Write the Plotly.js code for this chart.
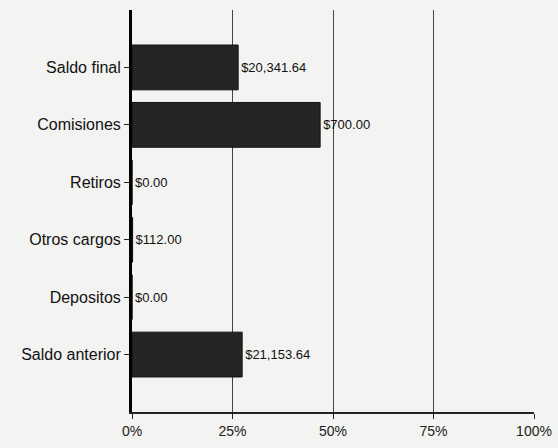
<!DOCTYPE html>
<html>
<head>
<meta charset="utf-8">
<script src="https://cdn.plot.ly/plotly-3.0.1.min.js"></script>
<style>html,body{margin:0;padding:0;background:#f3f3f1;}#chart{width:558px;height:448px;}</style>
</head>
<body>
<div id="chart"></div>
<script>
var categories = ["Saldo anterior", "Depositos", "Otros cargos", "Retiros", "Comisiones", "Saldo final"];
var percentValues = [27.4, 0, 0.15, 0, 46.8, 26.4];
var amountLabels = ["$21,153.64", "$0.00", "$112.00", "$0.00", "$700.00", "$20,341.64"];
var tickVals = [0, 25, 50, 75, 100];
var tickText = ["0%", "25%", "50%", "75%", "100%"];

var trace = {
  type: "bar",
  orientation: "h",
  y: categories,
  x: percentValues,
  text: amountLabels,
  textposition: "outside",
  cliponaxis: false,
  width: 0.78,
  marker: {color: "#252525", line: {color: "#111", width: 1}},
  textfont: {family: "Liberation Sans, Arial, sans-serif", size: 13, color: "#111"},
  hoverinfo: "none"
};

var layout = {
  width: 558, height: 448,
  margin: {l: 132, r: 24, t: 10, b: 36},
  paper_bgcolor: "#f3f3f1",
  plot_bgcolor: "#f3f3f1",
  showlegend: false,
  font: {family: "Liberation Sans, Arial, sans-serif", size: 12, color: "#111"},
  xaxis: {
    range: [0, 100],
    tickvals: tickVals,
    ticktext: tickText,
    showgrid: true,
    gridcolor: "#444",
    gridwidth: 1,
    zeroline: false,
    showline: true,
    linecolor: "#222",
    linewidth: 2,
    ticks: "outside",
    ticklen: 5,
    tickcolor: "#222",
    tickfont: {size: 14, color: "#222"},
    fixedrange: true
  },
  yaxis: {
    type: "category",
    range: [-1, 6],
    showgrid: false,
    zeroline: false,
    showline: true,
    linecolor: "#000",
    linewidth: 3,
    ticks: "outside",
    ticklen: 5,
    tickcolor: "#222",
    tickfont: {size: 16, color: "#111"},
    fixedrange: true
  },
  bargap: 0.22
};

Plotly.newPlot("chart", [trace], layout, {displayModeBar: false, staticPlot: true});
</script>
</body>
</html>
